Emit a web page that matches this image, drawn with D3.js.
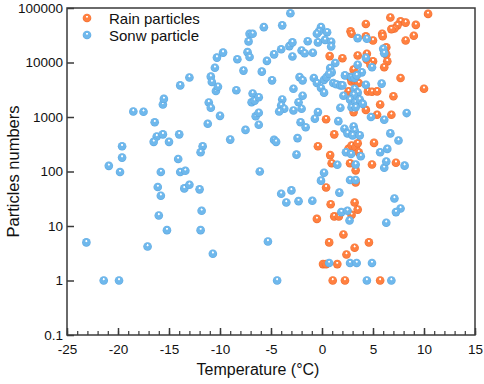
<!DOCTYPE html>
<html>
<head>
<meta charset="utf-8">
<script src="https://cdn.jsdelivr.net/npm/d3@7"></script>
<style>
  body { margin: 0; background: #fff; }
  svg text { font-family: Arial, "Liberation Sans", sans-serif; fill: #111; }
</style>
</head>
<body>
<div id="chart"></div>
<script>
// [temperature °C, particle number]
const rainPoints = [
  [10.4, 78000], [6.7, 67000], [7.7, 57000], [8.2, 54000], [7.4, 48000], [7.1, 42000],
  [6.8, 41000], [9.2, 49000], [4.3, 51000], [2.8, 37500], [2.9, 33700], [5.9, 33700],
  [5.95, 30300], [4.3, 30300], [5.0, 25300], [8.2, 25300], [9.0, 31000], [6.3, 19000],
  [0.75, 13100], [2.0, 12000], [3.5, 13400], [4.4, 14500], [4.4, 11200], [5.0, 10500],
  [6.3, 14100], [6.4, 10500], [6.1, 8200], [3.1, 7400], [7.7, 5200], [10.0, 3300],
  [7.0, 2400], [5.7, 1700], [4.3, 1350], [5.4, 1100], [6.8, 1100], [0.4, 910],
  [4.75, 9100], [2.75, 5400], [2.9, 4500], [3.2, 4700], [3.6, 4200], [2.6, 2950],
  [4.5, 2950], [4.9, 2900], [5.4, 2950], [3.1, 1230],
  [1.2, 480], [-0.4, 290], [0.8, 200], [0.95, 142], [2.6, 260], [2.9, 300], [3.3, 280],
  [3.5, 330], [3.6, 225], [2.75, 142], [3.3, 105], [3.3, 63], [5.1, 335], [4.9, 134],
  [7.25, 145], [0.4, 51], [0.85, 25], [3.2, 27], [3.5, 20], [1.2, 15], [1.65, 15],
  [-0.5, 13.5], [2.9, 16],
  [2.1, 7], [0.7, 5], [4.6, 5], [3.2, 4], [2.4, 3], [0.1, 2], [0.4, 2], [1.5, 2],
  [1.05, 1], [2.25, 1], [5.7, 1]
];

const snowPoints = [
  [-23.1, 5], [-21.4, 1], [-19.9, 1], [-17.1, 4.2], [-15.2, 8.4], [-11.9, 8.4], [-10.7, 3.1],
  [-18.5, 1260], [-17.5, 1250], [-16.4, 800], [-16.2, 440], [-15.6, 480], [-16.5, 350],
  [-15.0, 350], [-14.0, 480], [-19.6, 290], [-19.6, 180], [-20.9, 127], [-19.8, 98],
  [-15.8, 98], [-14.1, 170], [-13.9, 98], [-13.4, 103], [-16.1, 52], [-15.8, 36],
  [-13.5, 49], [-13.0, 57], [-12.0, 47], [-16.0, 15.6], [-11.8, 19], [-11.2, 750],
  [-11.7, 290], [-11.9, 225], [-10.0, 1050], [-11.1, 1850], [-10.9, 1480], [-15.6, 1700],
  [-9.0, 385], [-7.5, 580], [-6.5, 1030], [-6.2, 1200], [-6.2, 720], [-6.9, 1870], [-6.1, 100],
  [-15.5, 2150], [-13.9, 3800], [-13.0, 5300], [-10.4, 3000], [-10.2, 3600], [-10.9, 5500],
  [-10.8, 4400], [-10.5, 8000], [-10.3, 12300], [-9.7, 15200], [-8.4, 3100], [-7.7, 7100],
  [-8.3, 11500], [-7.3, 15500], [-7.1, 12600], [-7.2, 24400], [-7.1, 33600], [-6.8, 33600],
  [-6.8, 2700], [-6.6, 2000], [-6.2, 2300],
  [-5.7, 44500], [-3.9, 48000], [-5.4, 10700], [-4.7, 14100], [-4.0, 17500], [-3.2, 20000],
  [-5.9, 6800], [-4.9, 4700], [-3.9, 2100], [-4.0, 1620], [-3.7, 1420], [-4.2, 1260],
  [-4.7, 380], [-4.5, 350],
  [-3.1, 80000], [-0.1, 44500], [-0.3, 37000], [0.5, 36000], [-0.5, 33600], [-2.9, 23400],
  [-1.4, 24600], [-0.4, 23400], [0.3, 26000], [0.9, 24000], [0.9, 19600], [-2.9, 12900],
  [-2.0, 16600], [-1.7, 14800], [-0.9, 15100], [-2.2, 5400], [-1.9, 4700], [-0.8, 5200],
  [-0.5, 4200], [-0.1, 3400], [-2.8, 3300], [-1.9, 2460], [-2.3, 1870], [-2.8, 1320],
  [-2.0, 1420], [-0.4, 1230], [-0.7, 930], [1.8, 1480], [1.6, 840], [-2.1, 800], [-1.6, 650],
  [6.0, 17800], [6.1, 14800], [5.85, 4100], [8.3, 1180], [6.1, 890], [4.8, 1000],
  [3.5, 28000], [4.4, 27300], [4.3, 12200], [4.9, 8200], [1.3, 9800], [0.8, 7900],
  [0.95, 6600], [3.5, 9100], [3.9, 6600], [2.25, 5800], [2.9, 5400], [3.2, 5200],
  [3.4, 5800], [0.2, 4800], [0.45, 5400], [0.7, 6200], [1.1, 4200], [1.4, 4000],
  [1.8, 3800], [2.0, 3800], [0.2, 2800], [3.2, 3300], [3.5, 2800], [3.1, 2550],
  [4.3, 3900], [2.1, 2460], [2.75, 2080], [3.0, 1670], [3.3, 1870], [3.7, 2080],
  [2.9, 1510], [3.3, 1510], [4.0, 1740],
  [-2.4, 410], [-2.5, 204], [2.2, 610], [2.5, 500], [3.1, 670], [3.2, 565], [3.0, 460],
  [3.7, 460], [6.7, 500], [7.5, 370], [5.7, 225], [6.4, 260], [2.35, 225], [2.85, 210],
  [3.8, 190], [3.3, 134], [1.5, 133], [6.1, 117], [6.3, 152], [8.1, 128], [0.2, 95],
  [-0.1, 68], [2.75, 70], [3.3, 70], [-3.0, 45], [-2.3, 28.6], [-0.95, 29], [-3.5, 27],
  [-4.0, 39], [1.7, 41], [7.1, 32], [7.7, 21], [7.25, 18], [1.9, 18], [2.5, 19],
  [2.7, 12.6], [6.3, 11.5],
  [0.7, 2.1], [2.75, 2.1], [3.4, 2.1], [4.9, 2.1], [4.4, 1], [6.8, 1], [-5.3, 5.2], [-4.4, 1]
];

const xTicks = [-25, -20, -15, -10, -5, 0, 5, 10, 15];
const yTicks = [0.1, 1, 10, 100, 1000, 10000, 100000];
const seriesNames = ["Rain particles", "Sonw particle"];

const width = 484, height = 384;
const margin = { top: 8, right: 9, bottom: 49, left: 67 };

const svg = d3.select("#chart")
  .append("svg")
  .attr("width", width)
  .attr("height", height);

// shaded ball look
const defs = svg.append("defs");
const palettes = [
  { id: "ballRain", mid: "#ff8040", edge: "#ee6a2c" },
  { id: "ballSnow", mid: "#6fb8ec", edge: "#5aa6e0" }
];
palettes.forEach(p => {
  const g = defs.append("radialGradient")
    .attr("id", p.id)
    .attr("cx", "50%").attr("cy", "50%").attr("r", "50%")
    .attr("fx", "50%").attr("fy", "30%");
  g.append("stop").attr("offset", "0%").attr("stop-color", "#ffffff");
  g.append("stop").attr("offset", "14%").attr("stop-color", "#ffffff").attr("stop-opacity", 0.9);
  g.append("stop").attr("offset", "32%").attr("stop-color", p.mid);
  g.append("stop").attr("offset", "80%").attr("stop-color", p.mid);
  g.append("stop").attr("offset", "100%").attr("stop-color", p.edge);
});

const x = d3.scaleLinear()
  .domain([-25, 15])
  .range([margin.left, width - margin.right]);

const y = d3.scaleLog()
  .domain([0.1, 100000])
  .range([height - margin.bottom, margin.top]);

// frame
svg.append("rect")
  .attr("x", margin.left)
  .attr("y", margin.top)
  .attr("width", width - margin.left - margin.right)
  .attr("height", height - margin.top - margin.bottom)
  .attr("fill", "none")
  .attr("stroke", "#3a3a3a")
  .attr("stroke-width", 1.5);

// minor x ticks
svg.append("g")
  .attr("transform", `translate(0,${height - margin.bottom})`)
  .call(d3.axisBottom(x).tickValues(d3.range(-25, 16, 1)).tickSize(-4).tickFormat(""))
  .call(g => g.select(".domain").remove())
  .call(g => g.selectAll("line").attr("stroke", "#3a3a3a").attr("stroke-width", 1.2));

// x axis
svg.append("g")
  .attr("class", "x-axis")
  .attr("transform", `translate(0,${height - margin.bottom})`)
  .call(d3.axisBottom(x).tickValues(xTicks).tickSize(-7).tickPadding(9).tickFormat(d => String(d)))
  .call(g => g.select(".domain").remove())
  .call(g => g.selectAll("line").attr("stroke", "#3a3a3a").attr("stroke-width", 1.5))
  .call(g => g.selectAll("text").attr("font-size", 13.5).attr("fill", "#111")
    .style("font-family", "Arial, 'Liberation Sans', sans-serif"));

// y axis
svg.append("g")
  .attr("class", "y-axis")
  .attr("transform", `translate(${margin.left},0)`)
  .call(d3.axisLeft(y).tickValues(yTicks).tickSize(-7).tickPadding(4).tickFormat(d => String(d)))
  .call(g => g.select(".domain").remove())
  .call(g => g.selectAll("line").attr("stroke", "#3a3a3a").attr("stroke-width", 1.5))
  .call(g => g.selectAll("text").attr("font-size", 13.5).attr("fill", "#111")
    .style("font-family", "Arial, 'Liberation Sans', sans-serif"));

// axis titles
svg.append("text")
  .attr("x", (x(-25) + x(15)) / 2 - 13)
  .attr("y", 375)
  .attr("text-anchor", "middle")
  .attr("font-size", 16)
  .text("Temperature (°C)");

svg.append("text")
  .attr("transform", `translate(19,${(y(0.1) + y(100000)) / 2})rotate(-90)`)
  .attr("text-anchor", "middle")
  .attr("font-size", 16.5)
  .text("Particles numbers");

// points
const r = 4.3;
svg.append("g")
  .selectAll("circle")
  .data(rainPoints)
  .enter()
  .append("circle")
  .attr("cx", d => x(d[0]))
  .attr("cy", d => y(d[1]))
  .attr("r", r)
  .attr("fill", "url(#ballRain)");

svg.append("g")
  .selectAll("circle")
  .data(snowPoints)
  .enter()
  .append("circle")
  .attr("cx", d => x(d[0]))
  .attr("cy", d => y(d[1]))
  .attr("r", r)
  .attr("fill", "url(#ballSnow)");

// legend
const legend = svg.append("g").attr("transform", "translate(87,18)");
seriesNames.forEach((name, i) => {
  const row = legend.append("g").attr("transform", `translate(0,${i * 17})`);
  row.append("circle").attr("r", r).attr("fill", i === 0 ? "url(#ballRain)" : "url(#ballSnow)");
  row.append("text")
    .attr("x", 22)
    .attr("y", 5.5)
    .attr("font-size", 15)
    .text(name);
});
</script>
</body>
</html>
